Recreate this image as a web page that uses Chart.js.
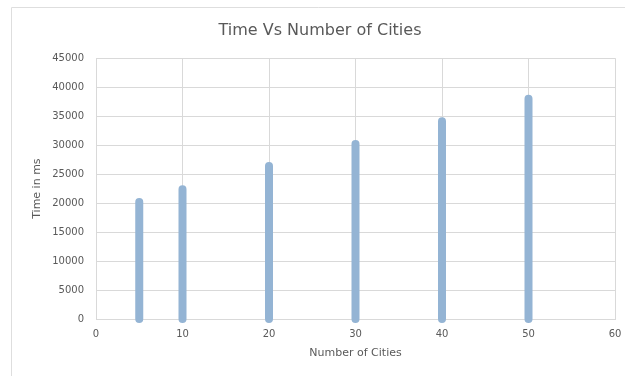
<!DOCTYPE html>
<html>
<head>
<meta charset="utf-8">
<script src="https://cdn.jsdelivr.net/npm/chart.js@4.4.1/dist/chart.umd.min.js"></script>
<style>
  html, body { margin: 0; padding: 0; background: #ffffff; }
  #wrap { position: relative; width: 625px; height: 376px; }
</style>
</head>
<body>
<div id="wrap"><canvas id="chart" width="625" height="376"></canvas></div>
<script>
// Number of cities tested and the run time measured for each (ms)
const cities = [5, 10, 20, 30, 40, 50];
const timeMs = [20200, 22400, 26400, 30200, 34100, 38000];
const xTicks = [0, 10, 20, 30, 40, 50, 60];
const yTicks = [0, 5000, 10000, 15000, 20000, 25000, 30000, 35000, 40000, 45000];

const TEXT = '#595959';
const GRID = '#d9d9d9';
const FONT = "'DejaVu Sans', sans-serif";

// Each city count becomes a vertical segment from 0 up to its time,
// separated by a null point so the segments are not joined.
const segments = [];
cities.forEach((c, i) => {
  segments.push({ x: c, y: 0 });
  segments.push({ x: c, y: timeMs[i] });
  segments.push({ x: c, y: null });
});

// Light frame around the whole chart object
const framePlugin = {
  id: 'frame',
  beforeDraw(chart) {
    const ctx = chart.ctx;
    ctx.save();
    ctx.strokeStyle = '#dedede';
    ctx.lineWidth = 1;
    ctx.beginPath();
    ctx.moveTo(11.5, 376);
    ctx.lineTo(11.5, 7.5);
    ctx.lineTo(625, 7.5);
    ctx.stroke();
    ctx.restore();
  }
};

new Chart(document.getElementById('chart'), {
  type: 'line',
  data: {
    datasets: [{
      label: 'Time',
      data: segments,
      borderColor: 'rgb(148,180,212)',
      borderWidth: 8,
      borderCapStyle: 'round',
      pointRadius: 0,
      spanGaps: false,
      tension: 0,
      clip: false
    }]
  },
  options: {
    responsive: false,
    animation: false,
    layout: { padding: { left: 25, right: 10, top: 0, bottom: 0 } },
    plugins: {
      legend: { display: false },
      tooltip: { enabled: false },
      title: {
        display: true,
        text: 'Time Vs Number of Cities',
        color: TEXT,
        font: { family: FONT, size: 16, weight: 'normal' },
        padding: { top: 21, bottom: 18 }
      }
    },
    scales: {
      x: {
        type: 'linear',
        min: 0,
        max: 60,
        afterBuildTicks(scale) { scale.ticks = xTicks.map(v => ({ value: v })); },
        afterFit(scale) {
          scale.height = 57;
          scale.paddingLeft = 0;
          scale.paddingRight = 0;
        },
        grid: { color: GRID, drawTicks: false },
        border: { display: true, color: GRID },
        ticks: {
          color: TEXT, font: { family: FONT, size: 10 }, padding: 9, maxRotation: 0,
          callback: v => String(v)
        },
        title: {
          display: true,
          text: 'Number of Cities',
          color: TEXT,
          font: { family: FONT, size: 11 },
          padding: { top: 0, bottom: 16 }
        }
      },
      y: {
        type: 'linear',
        min: 0,
        max: 45000,
        afterBuildTicks(scale) { scale.ticks = yTicks.map(v => ({ value: v })); },
        afterFit(scale) { scale.width = 71; },
        grid: { color: GRID, drawTicks: false },
        border: { display: true, color: GRID },
        ticks: {
          color: TEXT, font: { family: FONT, size: 10 }, padding: 12,
          callback: v => String(v)
        },
        title: {
          display: true,
          text: 'Time in ms',
          color: TEXT,
          font: { family: FONT, size: 11 },
          padding: { top: 6, bottom: 0 }
        }
      }
    }
  },
  plugins: [framePlugin]
});
</script>
</body>
</html>
